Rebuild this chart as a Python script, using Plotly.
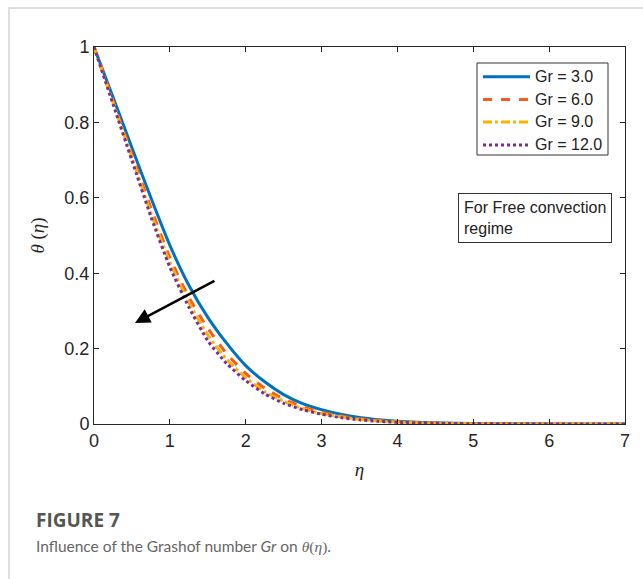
import plotly.graph_objects as go

eta = [0, 0.25, 0.5, 0.75, 1.0, 1.25, 1.5, 1.75, 2.0, 2.25, 2.5, 2.75, 3.0,
       3.25, 3.5, 3.75, 4.0, 4.5, 5.0, 5.5, 6.0, 6.5, 7.0]

theta_gr3 = [1.000, 0.867, 0.733, 0.600, 0.474, 0.368, 0.283, 0.214, 0.155, 0.112,
             0.078, 0.054, 0.038, 0.026, 0.017, 0.011, 0.007, 0.003, 0.0012, 0.0005,
             0.0002, 0.0001, 0.0]
theta_gr6 = [1.000, 0.857, 0.715, 0.573, 0.442, 0.336, 0.254, 0.186, 0.134, 0.095,
             0.066, 0.046, 0.031, 0.021, 0.014, 0.009, 0.006, 0.0024, 0.0009, 0.0004,
             0.0001, 0.0, 0.0]
theta_gr9 = [1.000, 0.853, 0.707, 0.560, 0.429, 0.323, 0.236, 0.171, 0.123, 0.086,
             0.060, 0.041, 0.028, 0.019, 0.012, 0.008, 0.005, 0.002, 0.0008, 0.0003,
             0.0001, 0.0, 0.0]
theta_gr12 = [1.000, 0.849, 0.699, 0.550, 0.416, 0.310, 0.221, 0.160, 0.115, 0.080,
              0.055, 0.038, 0.026, 0.017, 0.011, 0.007, 0.0045, 0.0018, 0.0007, 0.0003,
              0.0001, 0.0, 0.0]

series_names = ["Gr = 3.0", "Gr = 6.0", "Gr = 9.0", "Gr = 12.0"]
series_values = [theta_gr3, theta_gr6, theta_gr9, theta_gr12]
series_colors = ["#0072BD", "#F75C1E", "#FFB000", "#7E2F8E"]
series_dash = ["solid", "dash", "dashdot", "dot"]

x_ticks = [0, 1, 2, 3, 4, 5, 6, 7]
y_ticks = [0, 0.2, 0.4, 0.6, 0.8, 1.0]
y_tick_labels = ["0", "0.2", "0.4", "0.6", "0.8", "1"]

arrow_tail = (1.607, 0.382)
arrow_head = (0.54, 0.268)

fig = go.Figure()
for name, vals, col, dash in zip(series_names, series_values, series_colors, series_dash):
    fig.add_trace(go.Scatter(
        x=eta, y=vals, name=name, mode="lines", showlegend=False,
        line=dict(color=col, width=3, dash=dash, shape="spline", smoothing=0.6),
    ))

axis_color = "#262626"
sans = "Liberation Sans, Arial, sans-serif"
serif = "Liberation Serif, DejaVu Serif, serif"
fig.update_layout(
    width=643, height=579,
    margin=dict(l=94, r=18, t=47, b=155),
    paper_bgcolor="white", plot_bgcolor="white",
    font=dict(family=sans, size=16, color=axis_color),
    showlegend=False,
    xaxis=dict(
        range=[0, 7], tickvals=x_ticks, ticktext=[str(t) for t in x_ticks],
        showgrid=False, zeroline=False, showline=True, linecolor=axis_color, linewidth=1,
        mirror="ticks", ticks="inside", ticklen=5, tickcolor=axis_color,
        tickfont=dict(family=sans, size=18, color=axis_color),
        title=dict(text="<i>η</i>", font=dict(family=serif, size=19), standoff=13),
    ),
    yaxis=dict(
        range=[0, 1], tickvals=y_ticks, ticktext=y_tick_labels,
        showgrid=False, zeroline=False, showline=True, linecolor=axis_color, linewidth=1,
        mirror="ticks", ticks="inside", ticklen=5, tickcolor=axis_color,
        tickfont=dict(family=sans, size=18, color=axis_color),
        title=dict(text="<i>θ</i> (<i>η</i>)", font=dict(family=serif, size=19), standoff=14),
    ),
)

# custom legend box (paper coordinates)
leg_x0, leg_x1, leg_y0, leg_y1 = 0.7213, 0.968, 0.7135, 0.9576
fig.add_shape(type="rect", xref="paper", yref="paper",
              x0=leg_x0, x1=leg_x1, y0=leg_y0, y1=leg_y1,
              line=dict(color="#333333", width=1), fillcolor="white", layer="above")
row_y = [0.9213, 0.8607, 0.8011, 0.7401]
for name, col, dash, ry in zip(series_names, series_colors, series_dash, row_y):
    fig.add_shape(type="line", xref="paper", yref="paper",
                  x0=0.7326, x1=0.8211, y0=ry, y1=ry,
                  line=dict(color=col, width=3, dash=dash), layer="above")
    fig.add_annotation(x=0.8267, y=ry, xref="paper", yref="paper",
                       xanchor="left", yanchor="middle", text=name, showarrow=False,
                       font=dict(family=sans, size=16, color="#222222"))

# arrow
fig.add_annotation(
    x=arrow_head[0], y=arrow_head[1], ax=arrow_tail[0], ay=arrow_tail[1],
    xref="x", yref="y", axref="x", ayref="y",
    showarrow=True, arrowhead=2, arrowsize=1.2, arrowwidth=2.5, arrowcolor="black", text="",
)

# text box
fig.add_annotation(
    x=0.8296, y=0.5464, xref="paper", yref="paper", xanchor="center", yanchor="middle",
    text="For Free convection<br>regime", align="left", showarrow=False,
    font=dict(family=sans, size=16, color="#222222"),
    bordercolor="#333333", borderwidth=1, borderpad=5, bgcolor="white",
)

# card frame
fig.add_shape(type="path", xref="paper", yref="paper",
              path="M -0.160 -0.42 L -0.160 1.1034 L 1.05 1.1034",
              line=dict(color="#d4d4d4", width=1.5))

# caption
fig.add_annotation(
    x=-0.113, y=-0.2546, xref="paper", yref="paper", xanchor="left", yanchor="middle",
    text="<b>FIGURE 7</b>", showarrow=False,
    font=dict(family="Open Sans, sans-serif", size=19, color="#555555"),
)
fig.add_annotation(
    x=-0.113, y=-0.326, xref="paper", yref="paper", xanchor="left", yanchor="middle",
    text="Influence of the Grashof number <i>Gr</i> on "
         "<span style='font-family:Liberation Serif, serif'><i>θ</i>(<i>η</i>)</span>.",
    showarrow=False,
    font=dict(family="Lato, Open Sans, sans-serif", size=15.5, color="#666666"),
)

fig.write_html("out.html")
